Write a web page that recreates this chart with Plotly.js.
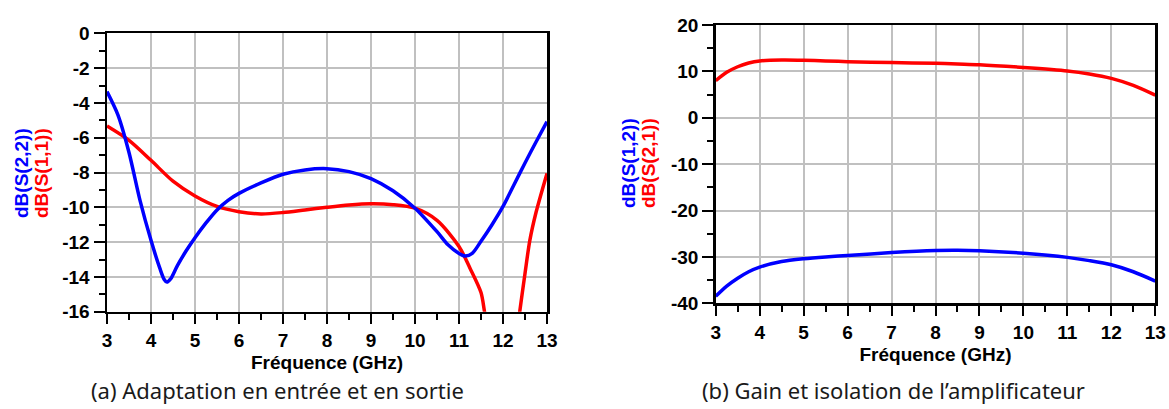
<!DOCTYPE html>
<html>
<head>
<meta charset="utf-8">
<script src="https://cdn.plot.ly/plotly-3.0.1.min.js"></script>
<style>html,body{margin:0;padding:0;background:#fff;}#chart{width:1169px;height:409px;}</style>
</head>
<body>
<div id="chart"></div>
<script>
// Plot (a): input / output matching
const freqA_S22 = [3, 3.25, 3.5, 3.75, 4, 4.2, 4.3, 4.36, 4.45, 4.6, 4.8, 5, 5.25, 5.5, 5.75, 6, 6.5, 7, 7.5, 8, 8.5, 9, 9.5, 10, 10.5, 10.75, 11, 11.15, 11.3, 11.5, 11.75, 12, 12.25, 12.5, 12.75, 13];
const s22 = [-3.35, -4.7, -6.85, -9.6, -11.9, -13.5, -14.15, -14.3, -14.1, -13.35, -12.5, -11.75, -10.9, -10.15, -9.6, -9.2, -8.6, -8.1, -7.85, -7.78, -7.95, -8.35, -9.05, -10.05, -11.4, -12.15, -12.65, -12.8, -12.65, -11.95, -11.0, -9.95, -8.7, -7.45, -6.25, -5.08];
const freqA_S11 = [3, 3.5, 4, 4.5, 5, 5.5, 6, 6.5, 7, 7.5, 8, 8.5, 9, 9.5, 10, 10.5, 11, 11.25, 11.5, 11.58, 11.75, 12, 12.25, 12.38, 12.5, 12.61, 12.75, 13];
const s11 = [-5.33, -6.15, -7.3, -8.5, -9.35, -9.95, -10.25, -10.38, -10.3, -10.15, -10.0, -9.87, -9.8, -9.85, -10.05, -10.75, -12.25, -13.5, -14.9, -16.0, -18.5, -20.0, -18.5, -16.0, -13.8, -11.9, -10.3, -8.05];

// Plot (b): gain and isolation
const freqB = [3, 3.25, 3.5, 3.75, 4, 4.5, 5, 5.5, 6, 7, 8, 8.5, 9, 10, 11, 11.5, 12, 12.5, 13];
const s21 = [8.0, 9.8, 11.0, 11.8, 12.25, 12.45, 12.4, 12.25, 12.1, 11.9, 11.75, 11.6, 11.45, 10.85, 10.1, 9.45, 8.5, 7.0, 4.9];
const s12 = [-38.5, -36.3, -34.6, -33.2, -32.2, -31.0, -30.4, -30.0, -29.7, -29.05, -28.6, -28.55, -28.65, -29.2, -30.1, -30.8, -31.7, -33.2, -35.2];

const xTickVals = [3, 4, 5, 6, 7, 8, 9, 10, 11, 12, 13];
const yTickValsA = [0, -2, -4, -6, -8, -10, -12, -14, -16];
const yTickValsB = [20, 10, 0, -10, -20, -30, -40];

const captionA = "(a) Adaptation en entrée et en sortie";
const captionB = "(b) Gain et isolation de l’amplificateur";
const xTitle = "Fréquence (GHz)";

const W = 1169, H = 409;
const BLUE = '#0000ff', RED = '#ff0000';
const FAM = 'Liberation Sans, Arial, sans-serif';
const tf = () => ({family: FAM, size: 19, color: '#000', weight: 'bold'});
const bold = (arr) => arr.map(v => '<b>' + v + '</b>');

function xAxis(domain, anchor) {
  return {
    domain: domain, anchor: anchor, range: [3, 13], tickmode: 'array', tickvals: xTickVals, ticktext: bold(xTickVals),
    showline: true, mirror: true, linecolor: '#000', linewidth: 2.5,
    ticks: 'outside', ticklen: 10, tickwidth: 2, tickcolor: '#000',
    minor: {dtick: 0.5, tick0: 3, ticks: 'outside', ticklen: 6, tickwidth: 2, tickcolor: '#000', showgrid: false},
    showgrid: true, gridcolor: '#c0c0c0', gridwidth: 2, zeroline: false,
    tickfont: tf(),
    title: {text: '<b>' + xTitle + '</b>', font: tf(), standoff: 6}
  };
}
function yAxis(domain, anchor, range, tickvals, minorDtick) {
  return {
    domain: domain, anchor: anchor, range: range, tickmode: 'array', tickvals: tickvals, ticktext: bold(tickvals),
    showline: true, mirror: true, linecolor: '#000', linewidth: 2.5,
    ticks: 'outside', ticklen: 11, tickwidth: 2, tickcolor: '#000',
    minor: {dtick: minorDtick, tick0: 0, ticks: 'outside', ticklen: 6, tickwidth: 2, tickcolor: '#000', showgrid: false},
    showgrid: true, gridcolor: '#c0c0c0', gridwidth: 2, zeroline: false,
    tickfont: tf()
  };
}

const lineStyle = (c) => ({color: c, width: 3.5, shape: 'spline', smoothing: 0.8});

const data = [
  {x: freqA_S11, y: s11, xaxis: 'x', yaxis: 'y', mode: 'lines', line: lineStyle(RED), name: 'dB(S(1,1))'},
  {x: freqA_S22, y: s22, xaxis: 'x', yaxis: 'y', mode: 'lines', line: lineStyle(BLUE), name: 'dB(S(2,2))'},
  {x: freqB, y: s21, xaxis: 'x2', yaxis: 'y2', mode: 'lines', line: lineStyle(RED), name: 'dB(S(2,1))'},
  {x: freqB, y: s12, xaxis: 'x2', yaxis: 'y2', mode: 'lines', line: lineStyle(BLUE), name: 'dB(S(1,2))'}
];

const px = (v) => v / W;
const py = (v) => (H - v) / H;

const titleFont = (c) => ({family: FAM, size: 19, color: c, weight: 'bold'});
const capFont = {family: 'Noto Sans, Open Sans, sans-serif', size: 22, color: '#1a1a1a'};

const layout = {
  width: W, height: H,
  margin: {l: 0, r: 0, t: 0, b: 0},
  paper_bgcolor: '#fff', plot_bgcolor: '#fff',
  showlegend: false,
  xaxis: xAxis([px(107), px(547)], 'y'),
  yaxis: yAxis([py(311.7), py(33.3)], 'x', [-16, 0], yTickValsA, 1),
  xaxis2: xAxis([px(715.7), px(1155.3)], 'y2'),
  yaxis2: yAxis([py(303.3), py(25)], 'x2', [-40, 20], yTickValsB, 5),
  annotations: [
    {text: '<b>dB(S(2,2))</b>', x: px(21), y: py(173), xref: 'paper', yref: 'paper', textangle: -90, showarrow: false, font: titleFont(BLUE), xanchor: 'center', yanchor: 'middle'},
    {text: '<b>dB(S(1,1))</b>', x: px(41), y: py(173), xref: 'paper', yref: 'paper', textangle: -90, showarrow: false, font: titleFont(RED), xanchor: 'center', yanchor: 'middle'},
    {text: '<b>dB(S(1,2))</b>', x: px(628), y: py(163), xref: 'paper', yref: 'paper', textangle: -90, showarrow: false, font: titleFont(BLUE), xanchor: 'center', yanchor: 'middle'},
    {text: '<b>dB(S(2,1))</b>', x: px(648), y: py(163), xref: 'paper', yref: 'paper', textangle: -90, showarrow: false, font: titleFont(RED), xanchor: 'center', yanchor: 'middle'},
    {text: captionA, x: px(277), y: py(390), xref: 'paper', yref: 'paper', showarrow: false, font: capFont, xanchor: 'center', yanchor: 'middle'},
    {text: captionB, x: px(893), y: py(390), xref: 'paper', yref: 'paper', showarrow: false, font: capFont, xanchor: 'center', yanchor: 'middle'}
  ]
};

Plotly.newPlot('chart', data, layout, {displayModeBar: false, staticPlot: true});
</script>
</body>
</html>
